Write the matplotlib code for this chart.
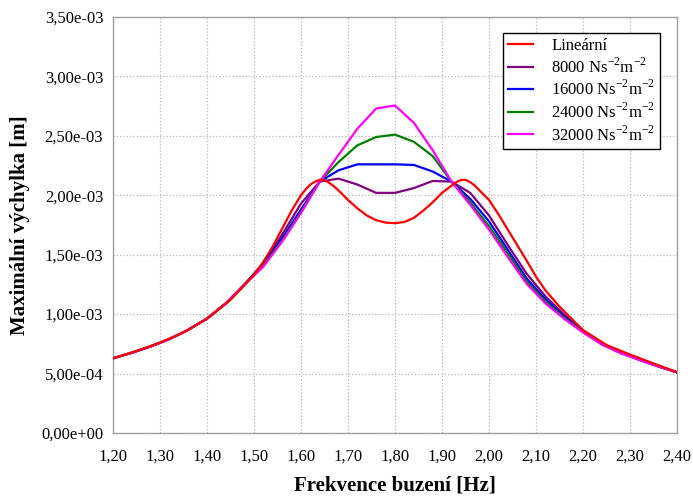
import numpy as np
import matplotlib
matplotlib.use('Agg')
import matplotlib.pyplot as plt
from matplotlib.ticker import FuncFormatter, MultipleLocator

plt.rcParams['font.family'] = 'Liberation Serif'
plt.rcParams['mathtext.fontset'] = 'custom'
plt.rcParams['mathtext.rm'] = 'Liberation Serif'

######## data (values in 1e-3 m)

# linear case, finer sampling
f_lin = [1.20, 1.25, 1.30, 1.35, 1.40, 1.45, 1.50, 1.52, 1.54, 1.56, 1.58,
         1.60, 1.61, 1.62, 1.63, 1.64, 1.65, 1.66, 1.67, 1.68, 1.70, 1.72,
         1.74, 1.76, 1.78, 1.80, 1.82, 1.84, 1.86, 1.88, 1.90, 1.92, 1.93,
         1.94, 1.95, 1.96, 1.97, 1.98, 2.00, 2.02, 2.04, 2.06, 2.08, 2.10,
         2.12, 2.15, 2.20, 2.25, 2.30, 2.35, 2.40]
a_lin = [0.628, 0.690, 0.760, 0.845, 0.962, 1.12, 1.33, 1.44, 1.57, 1.72,
         1.87, 2.00, 2.05, 2.09, 2.115, 2.13, 2.125, 2.105, 2.075, 2.04,
         1.96, 1.89, 1.83, 1.79, 1.77, 1.765, 1.775, 1.81, 1.87, 1.94,
         2.02, 2.08, 2.11, 2.128, 2.13, 2.11, 2.08, 2.04, 1.96, 1.84, 1.71,
         1.58, 1.45, 1.315, 1.20, 1.063, 0.865, 0.74, 0.66, 0.585, 0.512]

# nonlinear damping, step 0.04 Hz
f_nl = [1.20, 1.24, 1.28, 1.32, 1.36, 1.40, 1.44, 1.48, 1.52, 1.56, 1.60,
        1.64, 1.68, 1.72, 1.76, 1.80, 1.84, 1.88, 1.92, 1.96, 2.00, 2.04,
        2.08, 2.12, 2.16, 2.20, 2.24, 2.28, 2.32, 2.36, 2.40]
a_8000 = [0.628, 0.675, 0.728, 0.79, 0.868, 0.962, 1.09, 1.25, 1.43, 1.67,
          1.93, 2.115, 2.14, 2.09, 2.02, 2.02, 2.06, 2.12, 2.115, 2.02, 1.83,
          1.58, 1.34, 1.15, 0.995, 0.865, 0.755, 0.68, 0.62, 0.565, 0.51]
a_16000 = [0.628, 0.675, 0.728, 0.79, 0.868, 0.962, 1.09, 1.25, 1.42, 1.64,
           1.88, 2.115, 2.21, 2.26, 2.26, 2.26, 2.255, 2.20, 2.115, 1.97, 1.78,
           1.54, 1.30, 1.125, 0.98, 0.855, 0.75, 0.675, 0.615, 0.56, 0.51]
a_24000 = [0.628, 0.675, 0.728, 0.79, 0.868, 0.962, 1.09, 1.25, 1.41, 1.62,
           1.86, 2.115, 2.28, 2.42, 2.49, 2.51, 2.45, 2.33, 2.115, 1.94, 1.74,
           1.51, 1.275, 1.105, 0.97, 0.85, 0.745, 0.675, 0.615, 0.56, 0.51]
a_32000 = [0.628, 0.675, 0.728, 0.79, 0.868, 0.962, 1.09, 1.25, 1.40, 1.61,
           1.85, 2.115, 2.34, 2.56, 2.73, 2.755, 2.61, 2.38, 2.115, 1.92, 1.71,
           1.48, 1.255, 1.09, 0.96, 0.845, 0.745, 0.67, 0.615, 0.56, 0.51]

nl_series = [(a_8000, '#800080', r'8000 Ns$^{\mathregular{-2}}$m$^{\mathregular{-2}}$'),
             (a_16000, '#0000ff', r'16000 Ns$^{\mathregular{-2}}$m$^{\mathregular{-2}}$'),
             (a_24000, '#008000', r'24000 Ns$^{\mathregular{-2}}$m$^{\mathregular{-2}}$'),
             (a_32000, '#ff00ff', r'32000 Ns$^{\mathregular{-2}}$m$^{\mathregular{-2}}$')]

fig = plt.figure(figsize=(6.93, 4.98), dpi=100)
ax = fig.add_axes([0.163, 0.1305, 0.814, 0.8355])

lines = []
l, = ax.plot(f_lin, np.array(a_lin) * 1e-3, color='#ff0000', lw=1.6,
             label='Lineární', zorder=5)
lines.append(l)
for a, c, lab in nl_series:
    l, = ax.plot(f_nl, np.array(a) * 1e-3, color=c, lw=1.6, label=lab, zorder=3)
    lines.append(l)

ax.set_xlim(1.2, 2.4)
ax.set_ylim(0, 3.5e-3)
ax.xaxis.set_major_locator(MultipleLocator(0.1))
ax.yaxis.set_major_locator(MultipleLocator(5e-4))
ax.xaxis.set_major_formatter(FuncFormatter(lambda v, p: f"{v:.2f}".replace('.', ',')))
ax.yaxis.set_major_formatter(FuncFormatter(lambda v, p: f"{v:.2e}".replace('.', ',')))
ax.tick_params(length=0, labelsize=12)
ax.tick_params(axis='x', pad=11)
ax.tick_params(axis='y', pad=7)
ax.grid(True, color='#b8b8b8', ls=':', lw=0.9)
for s in ax.spines.values():
    s.set_color('#a0a0a0')
    s.set_linewidth(1.0)

ax.set_xlabel('Frekvence buzení [Hz]', fontsize=15, fontweight='bold', labelpad=8)
ax.set_ylabel('Maximální výchylka [m]', fontsize=15, fontweight='bold', labelpad=8)

leg = ax.legend(handles=lines, loc='upper right', bbox_to_anchor=(0.970, 0.962),
                borderaxespad=0, fontsize=12, frameon=True, fancybox=False,
                framealpha=1, edgecolor='black', handlelength=1.5,
                handletextpad=1.1, labelspacing=0.2, borderpad=0.3)
leg.get_frame().set_linewidth(1.0)

fig.savefig('out.png', dpi=100)
